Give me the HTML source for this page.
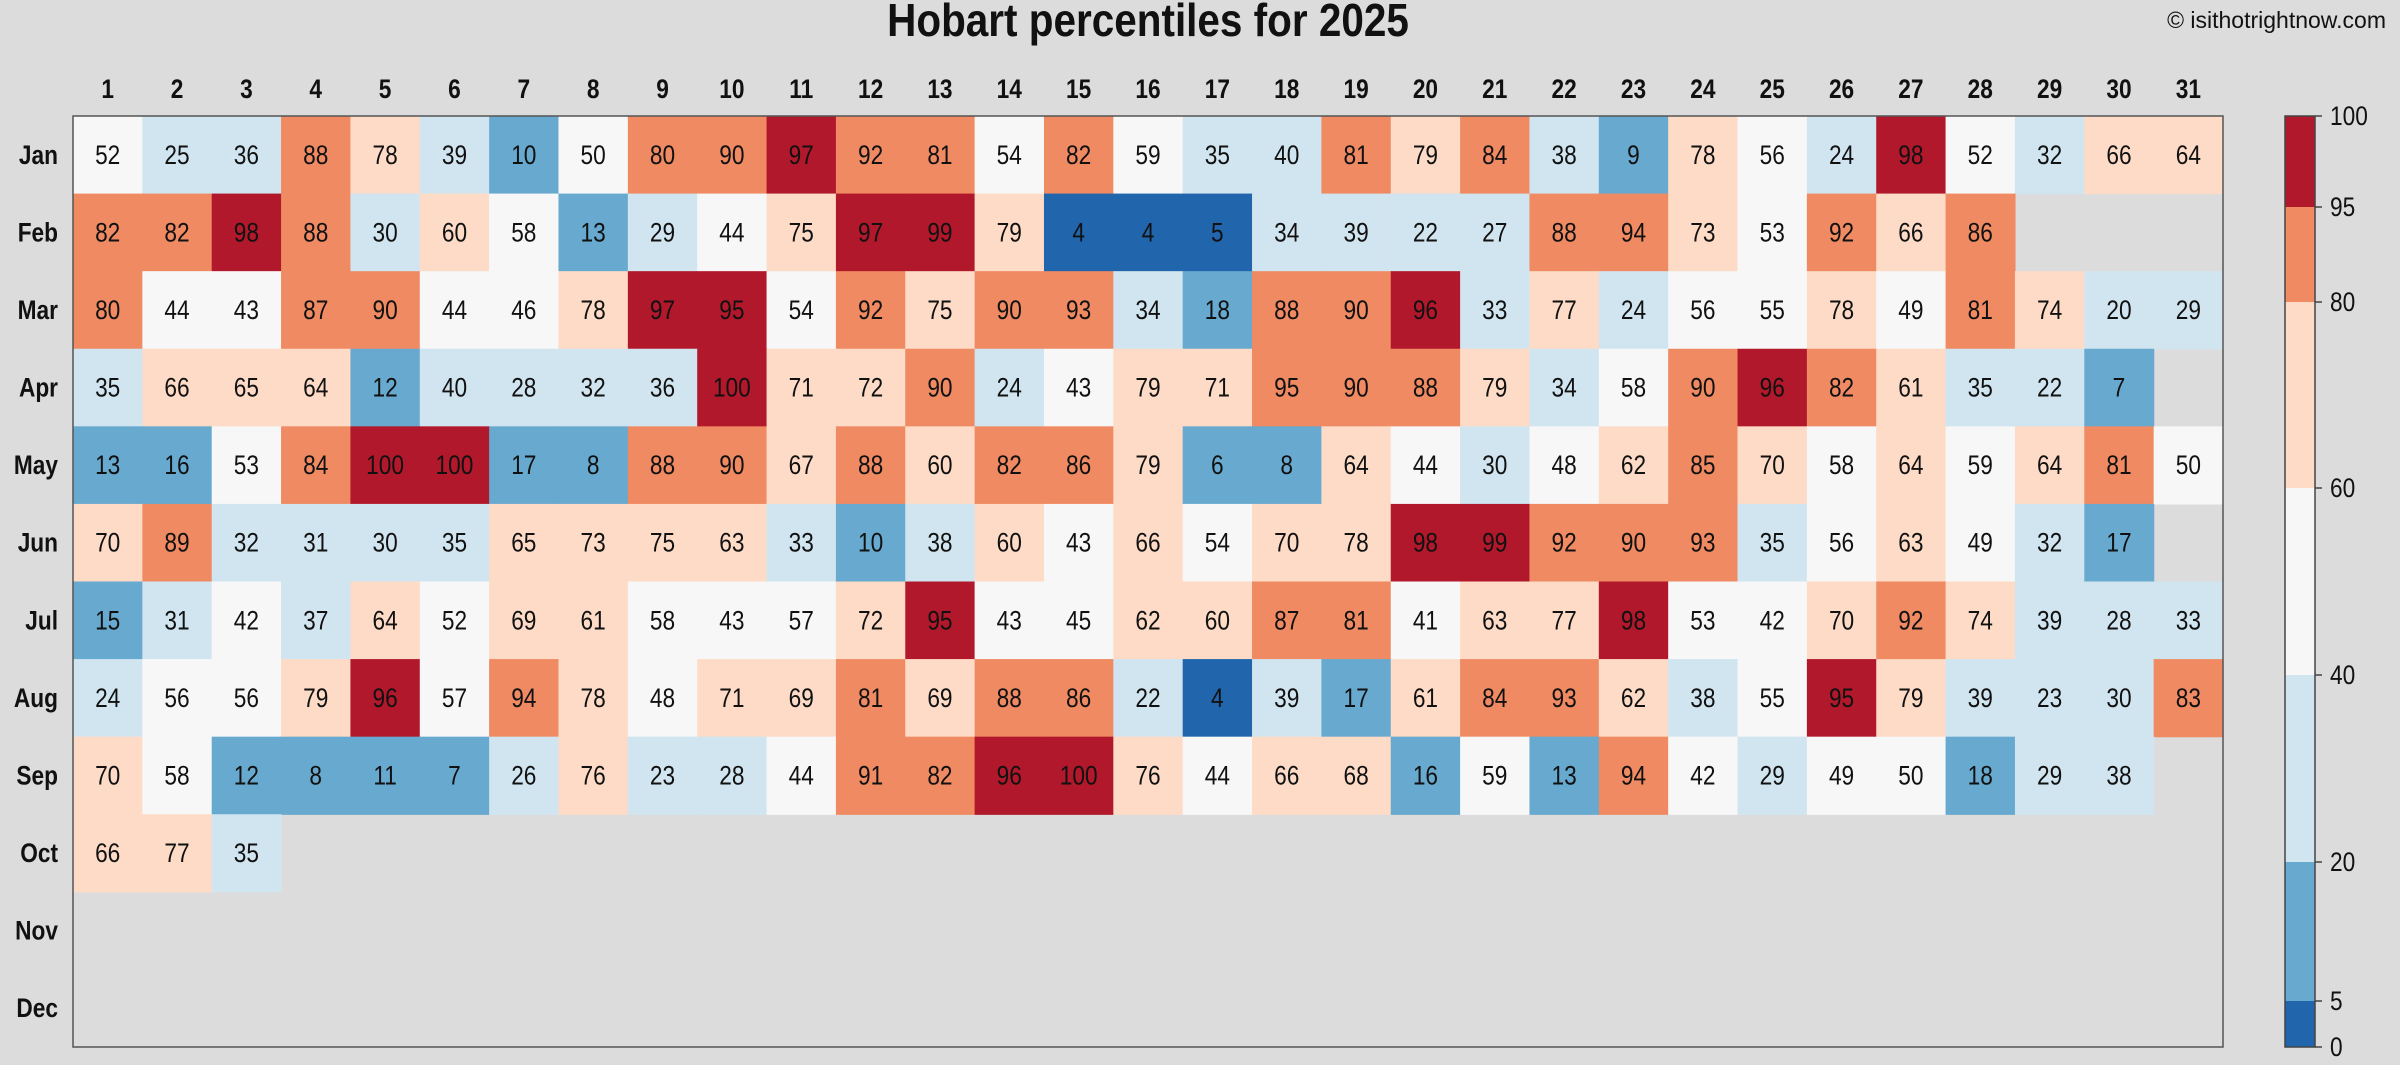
<!DOCTYPE html>
<html><head><meta charset="utf-8">
<style>
html,body{margin:0;padding:0;background:#dcdcdc;}
body{width:2400px;height:1060px;overflow:hidden;font-family:"Liberation Sans",sans-serif;}
svg text{font-family:"Liberation Sans",sans-serif;}
</style></head>
<body>
<svg id="chart" width="2400" height="1060" xmlns="http://www.w3.org/2000/svg">
<rect width="2400" height="1060" fill="#dcdcdc"/>
<g transform="translate(1148,0) scale(0.88,1)">
<text x="0" y="36" text-anchor="middle" font-size="46" font-weight="bold" fill="#111">Hobart percentiles for 2025</text>
</g>
<text x="2386" y="28" text-anchor="end" font-size="23" fill="#111">© isithotrightnow.com</text>
<g id="cells"></g>
<g id="labels"></g>
<rect x="73" y="116" width="2150" height="931" fill="none" stroke="#555" stroke-width="1.5"/>
<g id="cbar"></g>
</svg>
<script>
const months = ["Jan","Feb","Mar","Apr","May","Jun","Jul","Aug","Sep","Oct","Nov","Dec"];
const days = Array.from({length:31},(_,i)=>String(i+1));
const jan = [52,25,36,88,78,39,10,50,80,90,97,92,81,54,82,59,35,40,81,79,84,38,9,78,56,24,98,52,32,66,64];
const feb = [82,82,98,88,30,60,58,13,29,44,75,97,99,79,4,4,5,34,39,22,27,88,94,73,53,92,66,86];
const mar = [80,44,43,87,90,44,46,78,97,95,54,92,75,90,93,34,18,88,90,96,33,77,24,56,55,78,49,81,74,20,29];
const apr = [35,66,65,64,12,40,28,32,36,100,71,72,90,24,43,79,71,94.6,90,88,79,34,58,90,96,82,61,35,22,7];
const may = [13,16,53,84,100,100,17,8,88,90,67,88,60,82,86,79,6,8,64,44,30,48,62,85,70,58,64,59,64,81,50];
const jun = [70,89,32,31,30,35,65,73,75,63,33,10,38,60,43,66,54,70,78,98,99,92,90,93,35,56,63,49,32,17];
const jul = [15,31,42,37,64,52,69,61,58,43,57,72,95,43,45,62,60,87,81,41,63,77,98,53,42,70,92,74,39,28,33];
const aug = [24,56,56,79,96,57,94,78,48,71,69,81,69,88,86,22,4,39,17,61,84,93,62,38,55,95,79,39,23,30,83];
const sep = [70,58,12,8,11,7,26,76,23,28,44,91,82,96,100,76,44,66,68,16,59,13,94,42,29,49,50,18,29,38];
const oct = [66,77,35];
const nov = [];
const dec = [];
const rows = [jan,feb,mar,apr,may,jun,jul,aug,sep,oct,nov,dec];
const cbTicks = [0,5,20,40,60,80,95,100];
const cbColors = ["#2166ac","#67a9cf","#d1e5f0","#f7f7f7","#fddbc7","#ef8a62","#b2182b"];

const X0=73, Y0=116, CW=2150/31, CH=931/12, SX=0.84;
const xOf = d => X0 + d*CW;
const yOf = m => Y0 + m*CH;
function colorOf(v){
  if(v<=5) return cbColors[0];
  if(v<20) return cbColors[1];
  if(v<=40) return cbColors[2];
  if(v<60) return cbColors[3];
  if(v<80) return cbColors[4];
  if(v<95) return cbColors[5];
  return cbColors[6];
}
const NS="http://www.w3.org/2000/svg";
function mk(tag, attrs, parent){
  const e=document.createElementNS(NS,tag);
  for(const k in attrs) e.setAttribute(k, attrs[k]);
  parent.appendChild(e); return e;
}
function txt(x,y,str,attrs,parent){
  const g=mk('g',{transform:'translate('+x+','+y+') scale('+SX+',1)'},parent);
  const t=mk('text',Object.assign({x:0,y:0},attrs),g);
  t.textContent=str; return t;
}
const cells=document.getElementById('cells');
rows.forEach((row,m)=>{
  row.forEach((v,d)=>{
    const r=mk('rect',{x:xOf(d),y:yOf(m),width:CW+0.6,height:CH+0.6,fill:colorOf(v)},cells);
    
    
    const t=txt(xOf(d)+CW/2,yOf(m)+CH/2+9,Math.round(v),{'text-anchor':'middle','font-size':27,fill:'#111'},cells);
    
    
  });
});
const labels=document.getElementById('labels');
days.forEach((d,i)=>{
  const t=txt(xOf(i)+CW/2,98,d,{'text-anchor':'middle','font-size':27,'font-weight':'bold',fill:'#111'},labels);
  
  
});
months.forEach((mo,i)=>{
  const t=txt(58,yOf(i)+CH/2+9,mo,{'text-anchor':'end','font-size':27,'font-weight':'bold',fill:'#111'},labels);
  
  
});
const cbPos=[1047,1001,862,675,488,302,207,116];
const cb=document.getElementById('cbar');
function cbY(v){
  for(let i=0;i<cbTicks.length-1;i++){
    if(v<=cbTicks[i+1]){const f=(v-cbTicks[i])/(cbTicks[i+1]-cbTicks[i]);return cbPos[i]+f*(cbPos[i+1]-cbPos[i]);}
  }
  return cbPos[cbPos.length-1];
}
for(let i=0;i<cbColors.length;i++){
  const yA=cbY(cbTicks[i+1]), yB=cbY(cbTicks[i]);
  const r=mk('rect',{x:2285,y:yA,width:30,height:yB-yA,fill:cbColors[i]},cb);
  
  
}
const cbb=mk('rect',{x:2285,y:116,width:30,height:931,fill:'none',stroke:'#444','stroke-width':1.5},cb);


cbTicks.forEach(v=>{
  const y=cbY(v);
  mk('line',{x1:2315,x2:2322,y1:y,y2:y,stroke:'#444','stroke-width':1.5},cb);
  const t=txt(2330,y+9,v,{'font-size':27,fill:'#111'},cb);
  
  
});
</script>
</body></html>
